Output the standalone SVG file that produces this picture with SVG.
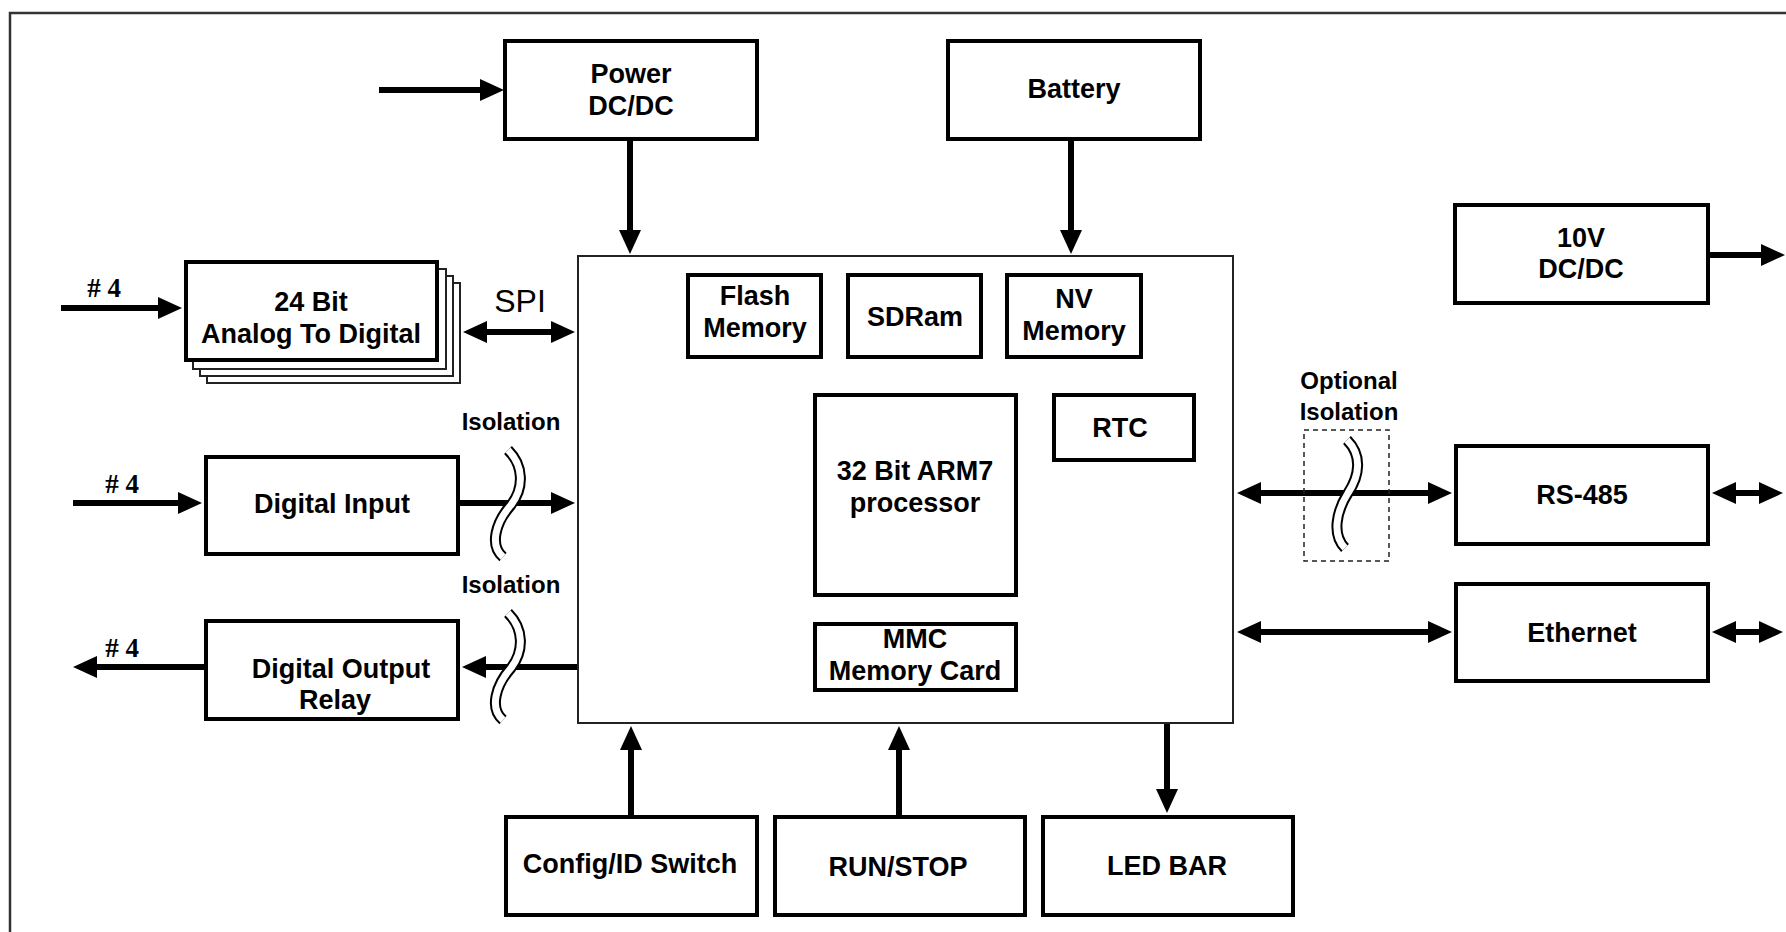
<svg xmlns="http://www.w3.org/2000/svg" width="1786" height="932" viewBox="0 0 1786 932">
<style>
.box{fill:#fff;stroke:#000;stroke-width:4}
.thin{fill:#fff;stroke:#222;stroke-width:2}
.lbl{font-family:"Liberation Sans",Arial,sans-serif;font-weight:bold;font-size:27px;fill:#000;text-anchor:middle}
.small{font-family:"Liberation Sans",Arial,sans-serif;font-weight:bold;font-size:24px;fill:#000;text-anchor:middle}
.num{font-family:"Liberation Serif","Times New Roman",serif;font-weight:bold;font-size:27px;fill:#000;text-anchor:middle}
.spi{font-family:"Liberation Sans",Arial,sans-serif;font-size:32px;fill:#000;text-anchor:middle}
.ln{stroke:#000;stroke-width:6;fill:none}
.one{marker-end:url(#ah)}
.two{marker-start:url(#ah);marker-end:url(#ah)}
.sqb{stroke:#000;stroke-width:11;fill:none}
.sqw{stroke:#fff;stroke-width:7;fill:none}
</style>
<defs>
<marker id="ah" markerUnits="userSpaceOnUse" markerWidth="24" markerHeight="22" refX="12" refY="11" orient="auto-start-reverse" viewBox="0 0 24 22">
<path d="M0,0 L24,11 L0,22 z" fill="#000"/>
</marker>
</defs>
<rect width="1786" height="932" fill="#fff"/>
<g id="frame">
<path d="M10,932 V13 H1786" fill="none" stroke="#333" stroke-width="2.5"/>
</g>
<g id="processor">
<rect class="thin" x="578" y="256" width="655" height="467"/>
</g>
<g id="flash">
<rect class="box" x="688" y="275" width="133" height="82"/>
<text class="lbl" x="755" y="305">Flash</text>
<text class="lbl" x="755" y="337">Memory</text>
</g>
<g id="sdram">
<rect class="box" x="848" y="275" width="133" height="82"/>
<text class="lbl" x="915" y="326">SDRam</text>
</g>
<g id="nvmemory">
<rect class="box" x="1007" y="275" width="134" height="82"/>
<text class="lbl" x="1074" y="308">NV</text>
<text class="lbl" x="1074" y="340">Memory</text>
</g>
<g id="arm">
<rect class="box" x="815" y="395" width="201" height="200"/>
<text class="lbl" x="915" y="480">32 Bit ARM7</text>
<text class="lbl" x="915" y="512">processor</text>
</g>
<g id="rtc">
<rect class="box" x="1054" y="395" width="140" height="65"/>
<text class="lbl" x="1120" y="437">RTC</text>
</g>
<g id="mmc">
<rect class="box" x="815" y="624" width="201" height="66"/>
<text class="lbl" x="915" y="648">MMC</text>
<text class="lbl" x="915" y="680">Memory Card</text>
</g>
<g id="power">
<rect class="box" x="505" y="41" width="252" height="98"/>
<text class="lbl" x="631" y="83">Power</text>
<text class="lbl" x="631" y="115">DC/DC</text>
</g>
<g id="battery">
<rect class="box" x="948" y="41" width="252" height="98"/>
<text class="lbl" x="1074" y="98">Battery</text>
</g>
<g id="dcdc10v">
<rect class="box" x="1455" y="205" width="253" height="98"/>
<text class="lbl" x="1581" y="247">10V</text>
<text class="lbl" x="1581" y="278">DC/DC</text>
</g>
<g id="adc">
<rect class="thin" x="207" y="283" width="253" height="100"/>
<rect class="thin" x="200" y="276" width="253" height="100"/>
<rect class="thin" x="193" y="269" width="253" height="100"/>
<rect class="box" x="186" y="262" width="251" height="98"/>
<text class="lbl" x="311" y="311">24 Bit</text>
<text class="lbl" x="311" y="343">Analog To Digital</text>
</g>
<g id="digitalinput">
<rect class="box" x="206" y="457" width="252" height="97"/>
<text class="lbl" x="332" y="513">Digital Input</text>
</g>
<g id="digitaloutput">
<rect class="box" x="206" y="621" width="252" height="98"/>
<text class="lbl" x="341" y="678">Digital Output</text>
<text class="lbl" x="335" y="709">Relay</text>
</g>
<g id="rs485">
<rect class="box" x="1456" y="446" width="252" height="98"/>
<text class="lbl" x="1582" y="504">RS-485</text>
</g>
<g id="ethernet">
<rect class="box" x="1456" y="584" width="252" height="97"/>
<text class="lbl" x="1582" y="642">Ethernet</text>
</g>
<g id="config">
<rect class="box" x="506" y="817" width="251" height="98"/>
<text class="lbl" x="630" y="873">Config/ID Switch</text>
</g>
<g id="runstop">
<rect class="box" x="775" y="817" width="250" height="98"/>
<text class="lbl" x="898" y="876">RUN/STOP</text>
</g>
<g id="ledbar">
<rect class="box" x="1043" y="817" width="250" height="98"/>
<text class="lbl" x="1167" y="875">LED BAR</text>
</g>
<g id="connectors">
<line class="ln one" x1="379" y1="90" x2="492" y2="90"/>
<line class="ln one" x1="630" y1="141" x2="630" y2="242"/>
<line class="ln one" x1="1071" y1="141" x2="1071" y2="242"/>
<line class="ln one" x1="61" y1="308" x2="170" y2="308"/>
<line class="ln two" x1="475" y1="332" x2="563" y2="332"/>
<line class="ln one" x1="73" y1="503" x2="190" y2="503"/>
<line class="ln one" x1="460" y1="503" x2="563" y2="503"/>
<line class="ln one" x1="577" y1="667" x2="474" y2="667"/>
<line class="ln one" x1="204" y1="667" x2="85" y2="667"/>
<line class="ln one" x1="631" y1="815" x2="631" y2="738"/>
<line class="ln one" x1="899" y1="815" x2="899" y2="738"/>
<line class="ln one" x1="1167" y1="724" x2="1167" y2="801"/>
<line class="ln one" x1="1710" y1="255" x2="1773" y2="255"/>
<line class="ln two" x1="1249" y1="493" x2="1440" y2="493"/>
<line class="ln two" x1="1724" y1="493" x2="1771" y2="493"/>
<line class="ln two" x1="1249" y1="632" x2="1440" y2="632"/>
<line class="ln two" x1="1724" y1="632" x2="1771" y2="632"/>
</g>
<g id="isolation1">
<path class="sqb" d="M508,450 C524,466 524,488 511,505 C496,522 489,545 503,557"/>
<path class="sqw" d="M508,450 C524,466 524,488 511,505 C496,522 489,545 503,557"/>
<text class="small" x="511" y="430">Isolation</text>
</g>
<g id="isolation2">
<path class="sqb" d="M508,613 C524,629 524,651 511,668 C496,685 489,708 503,720"/>
<path class="sqw" d="M508,613 C524,629 524,651 511,668 C496,685 489,708 503,720"/>
<text class="small" x="511" y="593">Isolation</text>
</g>
<g id="optionalisolation">
<rect x="1304" y="430" width="85" height="131" fill="none" stroke="#222" stroke-width="1.5" stroke-dasharray="5,4"/>
<path class="sqb" d="M1347,440 C1362,455 1360,475 1348,493 C1336,512 1332,535 1345,548"/>
<path class="sqw" d="M1347,440 C1362,455 1360,475 1348,493 C1336,512 1332,535 1345,548"/>
<text class="small" x="1349" y="389">Optional</text>
<text class="small" x="1349" y="420">Isolation</text>
</g>
<g id="labels">
<text class="num" x="104" y="297"># 4</text>
<text class="num" x="122" y="493"># 4</text>
<text class="num" x="122" y="657"># 4</text>
<text class="spi" x="520" y="312">SPI</text>
</g>
</svg>
